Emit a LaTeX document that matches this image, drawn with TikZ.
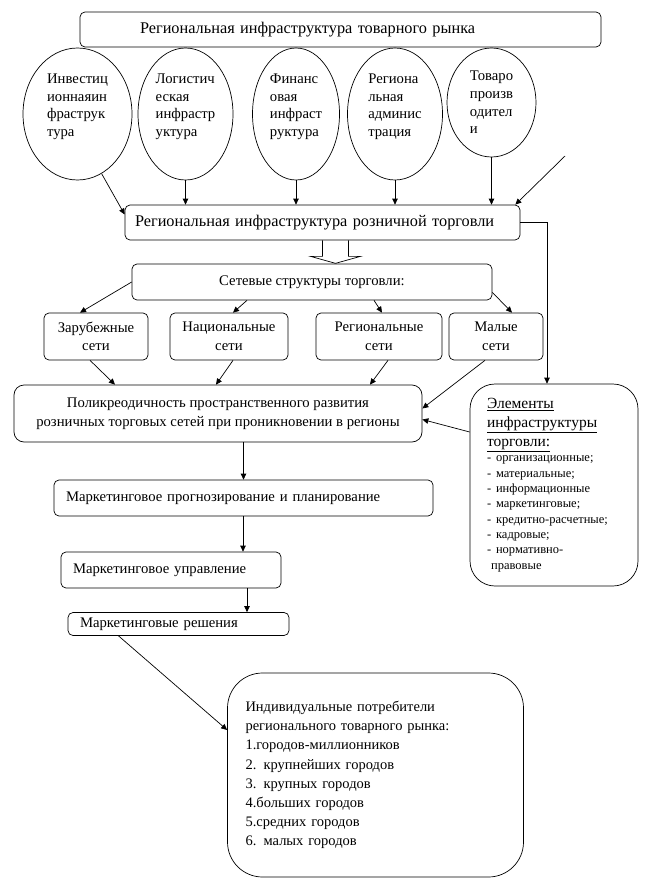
\documentclass[tikz,border=0pt]{standalone}
\usepackage{fontspec}
\setmainfont{Liberation Serif}
\usetikzlibrary{arrows.meta,shapes.geometric}

\newcommand{\fmain}{\fontsize{14.7}{18.5}\selectfont}
\newcommand{\fbig}{\fontsize{16.3}{19}\selectfont}
\newcommand{\fhead}{\fontsize{15.5}{19}\selectfont}
\newcommand{\fsmall}{\fontsize{12.5}{15.3}\selectfont}

\tikzset{
  box/.style={draw, rounded corners=5pt, inner sep=0pt, font=\fmain},
  ell/.style={draw, ellipse, inner sep=0pt, align=left, font=\fontsize{14.7}{17.7}\selectfont},
  arr/.style={-{Triangle[length=6pt,width=5.5pt]}},
}

\begin{document}
\begin{tikzpicture}[x=1pt,y=-1pt,line width=0.7pt]
\useasboundingbox (0,0) rectangle (657,888);

% top row
\node[box, minimum width=521pt, minimum height=35pt, text width=401pt, inner xsep=60pt, align=left, font=\fbig] (top) at (340.5,29.5) {Региональная инфраструктура товарного рынка};

\node[ell, minimum width=109pt, minimum height=132pt] (inv) at (77.5,114) {Инвестиц\\ионнаяин\\фраструк\\тура\\\mbox{}};
\node[ell, minimum width=95pt, minimum height=132pt] (log) at (185.5,114) {Логистич\\еская\\инфрастр\\уктура\\\mbox{}};
\node[ell, minimum width=87pt, minimum height=132pt] (fin) at (296,114) {Финанс\\овая\\инфраст\\руктура\\\mbox{}};
\node[ell, minimum width=95pt, minimum height=132pt] (adm) at (395,114) {Региона\\льная\\админис\\трация\\\mbox{}};
\node[ell, minimum width=89pt, minimum height=109pt] (prod) at (491.5,102.5) {Товаро\\произв\\одител\\и};
\coordinate (ext) at (565,156);

% retail
\node[box, minimum width=395pt, minimum height=35pt, text width=375pt, inner xsep=10pt, align=left, font=\fbig] (ret) at (322.5,222.5) {Региональная инфраструктура розничной торговли};

\draw[arr] (inv.292) -- ([yshift=8pt]ret.west);
\draw[arr] (log.south) -- (log.south |- ret.north);
\draw[arr] (fin.south) -- (fin.south |- ret.north);
\draw[arr] (adm.south) -- (adm.south |- ret.north);
\draw[arr] (prod.south) -- (prod.south |- ret.north);
\draw[arr] (ext) -- ([xshift=-5pt]ret.north east);

% hollow arrow
\draw (ret.south) -- ++(0,16) -- ++(-12,0) -- ++(25,7) -- ++(25,-7) -- ++(-12,0) -- ++(0,-16);

% networks
\node[box, minimum width=360pt, minimum height=36pt] (sets) at (312,282) {Сетевые структуры торговли:};

\node[box, minimum width=104pt, minimum height=47pt, align=center] (zar) at (96,336.5) {Зарубежные\\сети};
\node[box, minimum width=118pt, minimum height=47pt, align=center] (nat) at (229,336.5) {Национальные\\сети};
\node[box, minimum width=126pt, minimum height=47pt, align=center] (reg) at (379,336.5) {Региональные\\сети};
\node[box, minimum width=94pt, minimum height=47pt, align=center] (mal) at (496,336.5) {Малые\\сети};

\draw[arr] (sets.west) -- ([xshift=-16pt]zar.north);
\draw[arr] ([xshift=-65pt]sets.south) -- ([xshift=4pt]nat.north);
\draw[arr] ([xshift=62pt]sets.south) -- ([xshift=3pt]reg.north);
\draw[arr] ([yshift=8pt]sets.south east) -- ([xshift=16pt]mal.north);

\node[box, rounded corners=10pt, minimum width=408pt, minimum height=57pt, align=center] (poly) at (218,413.5) {Поликреодичность пространственного развития\\розничных торговых сетей при проникновении в регионы};

\draw[arr] ([xshift=-6pt]zar.south) -- ([xshift=-103pt]poly.north);
\draw[arr] ([xshift=4pt]nat.south) -- ([xshift=-2pt]poly.north);
\draw[arr] ([xshift=9pt]reg.south) -- ([xshift=152pt]poly.north);
\draw[arr] ([xshift=-11pt]mal.south) -- ([yshift=5pt]poly.east);

% elements
\node[box, rounded corners=25pt, minimum width=168pt, minimum height=202pt, text width=134pt, inner xsep=17pt, align=left] (elem) at (554,485) {{\fhead\underline{Элементы}\\\underline{инфраструктуры}\\\underline{торговли:}\par}\fsmall - организационные;\\- материальные;\\- информационные\\- маркетинговые;\\- кредитно-расчетные;\\- кадровые;\\- нормативно-\\\hphantom{-}правовые\par};

\draw[arr] (ret.east) -| ([xshift=-7pt]elem.north);
\draw[arr] ([yshift=53pt]elem.west) -- ([yshift=-6pt]poly.east);

% marketing chain
\node[box, minimum width=379pt, minimum height=36pt, text width=355pt, inner xsep=12pt, align=left] (fore) at (243.5,498) {Маркетинговое прогнозирование и планирование};
\node[box, minimum width=220pt, minimum height=36pt, text width=196pt, inner xsep=12pt, align=left] (mgmt) at (171,570) {Маркетинговое управление};
\node[box, minimum width=221pt, minimum height=23pt, text width=197pt, inner xsep=12pt, align=left] (dec) at (178.5,624) {Маркетинговые решения};

\draw[arr] (fore.north |- poly.south) -- (fore.north);
\draw[arr] ([xshift=-0.5pt]fore.south) -- ([xshift=-0.5pt]fore.south |- mgmt.north);
\draw[arr] ([xshift=76pt]mgmt.south) -- ([xshift=76pt]mgmt.south |- dec.north);

% consumers
\node[box, rounded corners=35pt, minimum width=296pt, minimum height=204pt, text width=260pt, inner xsep=18pt, align=left, font=\fontsize{14.5}{19.2}\selectfont] (cons) at (375.5,775) {Индивидуальные потребители\\регионального товарного рынка:\\1.городов-миллионников\\2. крупнейших городов\\3. крупных городов\\4.больших городов\\5.средних городов\\6. малых городов};

\draw[arr] ([xshift=-60pt]dec.south) -- ([yshift=45pt]cons.west);

\end{tikzpicture}
\end{document}
